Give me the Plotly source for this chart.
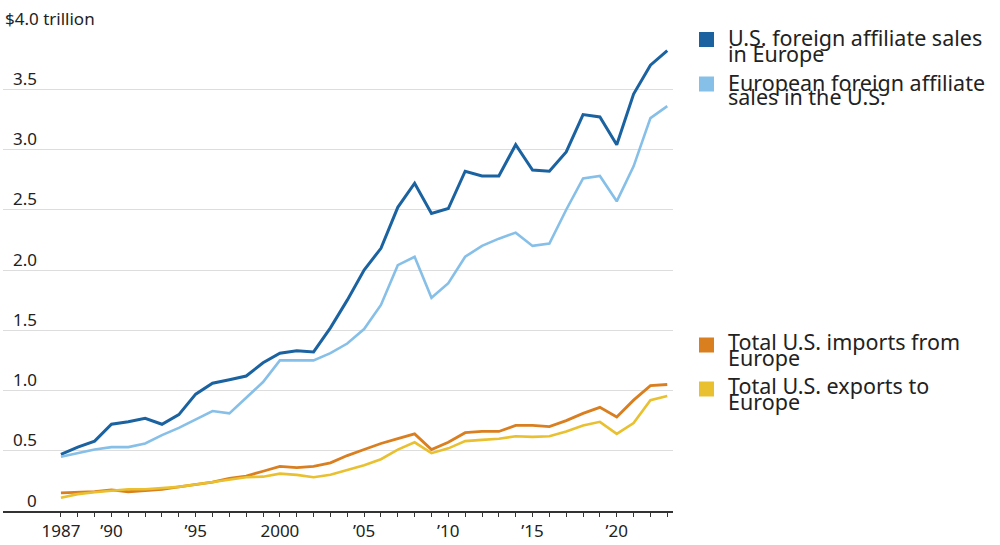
import plotly.graph_objects as go

years = list(range(1987, 2024))

us_affiliate_europe = [0.47, 0.53, 0.58, 0.72, 0.74, 0.77, 0.72, 0.80, 0.97, 1.06,
                       1.09, 1.12, 1.23, 1.31, 1.33, 1.32, 1.52, 1.75, 2.00, 2.18,
                       2.52, 2.72, 2.47, 2.51, 2.82, 2.78, 2.78, 3.04, 2.83, 2.82,
                       2.98, 3.29, 3.27, 3.04, 3.46, 3.70, 3.82]
eu_affiliate_us = [0.45, 0.48, 0.51, 0.53, 0.53, 0.56, 0.63, 0.69, 0.76, 0.83,
                   0.81, 0.94, 1.07, 1.25, 1.25, 1.25, 1.31, 1.39, 1.51, 1.71,
                   2.04, 2.11, 1.77, 1.89, 2.11, 2.20, 2.26, 2.31, 2.20, 2.22,
                   2.50, 2.76, 2.78, 2.57, 2.86, 3.26, 3.36]
us_imports = [0.15, 0.155, 0.16, 0.175, 0.16, 0.17, 0.18, 0.20, 0.22, 0.24,
              0.27, 0.29, 0.33, 0.37, 0.36, 0.37, 0.40, 0.46, 0.51, 0.56,
              0.60, 0.64, 0.51, 0.57, 0.65, 0.66, 0.66, 0.71, 0.71, 0.70,
              0.75, 0.81, 0.86, 0.78, 0.92, 1.04, 1.05]
us_exports = [0.11, 0.14, 0.155, 0.17, 0.18, 0.18, 0.19, 0.20, 0.22, 0.24,
              0.26, 0.28, 0.285, 0.31, 0.30, 0.28, 0.30, 0.34, 0.38, 0.43,
              0.51, 0.57, 0.48, 0.52, 0.58, 0.59, 0.60, 0.62, 0.615, 0.62,
              0.66, 0.71, 0.74, 0.64, 0.73, 0.92, 0.955]

series_names = [["U.S. foreign affiliate sales", "in Europe"],
                ["European foreign affiliate", "sales in the U.S."],
                ["Total U.S. imports from", "Europe"],
                ["Total U.S. exports to", "Europe"]]
series_colors = ["#1b62a0", "#86bfe8", "#d97f1f", "#e9c030"]
series_values = [us_affiliate_europe, eu_affiliate_us, us_imports, us_exports]
line_widths = [3, 2.6, 2.8, 2.6]

x_tick_vals = [1987, 1990, 1995, 2000, 2005, 2010, 2015, 2020]
x_tick_text = ["1987", "\u201990", "\u201995", "2000", "\u201905", "\u201910", "\u201915", "\u201920"]
y_tick_vals = [0, 0.5, 1.0, 1.5, 2.0, 2.5, 3.0, 3.5, 4.0]
y_tick_text = ["0", "0.5", "1.0", "1.5", "2.0", "2.5", "3.0", "3.5", "$4.0 trillion"]

FONT = "Noto Sans"
TXT = "#222222"
W, H = 1000, 545
L, R, T, B = 3, 327, 29, 34
plot_w = W - L - R
plot_h = H - T - B

def px_to_paper_x(px):
    return (px - L) / plot_w

def py_to_paper_y(py):
    return (H - B - py) / plot_h

fig = go.Figure()
for name, vals, col, lw in zip(series_names, series_values, series_colors, line_widths):
    fig.add_trace(go.Scatter(x=years, y=vals, mode="lines", name=" ".join(name),
                             line=dict(color=col, width=lw), showlegend=False,
                             hoverinfo="skip"))

# all-year ticks, labelled only at chosen years
all_tick_text = [x_tick_text[x_tick_vals.index(y)] if y in x_tick_vals else "" for y in years]

fig.update_layout(
    width=W, height=H,
    margin=dict(l=L, r=R, t=T, b=B),
    paper_bgcolor="white", plot_bgcolor="white",
    font=dict(family=FONT, color=TXT),
    xaxis=dict(range=[1983.56, 2023.34], tickmode="array", tickvals=years,
               ticktext=all_tick_text, ticks="outside", ticklen=4, tickwidth=1.3,
               tickcolor="#333333", showline=True, linecolor="#333333", linewidth=1.6,
               showgrid=False, zeroline=False, fixedrange=True,
               tickfont=dict(size=17, family=FONT, color=TXT)),
    yaxis=dict(range=[0, 4.0], tickvals=y_tick_vals, showticklabels=False,
               showgrid=True, gridcolor="#dddddd", gridwidth=1.4, zeroline=False,
               showline=False, fixedrange=True),
)

# y tick labels above gridlines
for v, t in zip(y_tick_vals, y_tick_text):
    if v == 4.0:
        fig.add_annotation(x=px_to_paper_x(3), xref="paper", xanchor="left",
                           y=v, yref="y", yanchor="middle", yshift=11, text=t,
                           showarrow=False, font=dict(size=17, family=FONT, color=TXT))
    else:
        fig.add_annotation(x=px_to_paper_x(39), xref="paper", xanchor="right",
                           y=v, yref="y", yanchor="middle", yshift=11, text=t,
                           showarrow=False, font=dict(size=17, family=FONT, color=TXT))

# legend
legend_sq_centers = [39.5, 84, 345, 389]
legend_line_centers = [(37.5, 53), (82, 96.5), (341.5, 357.5), (385.5, 401.5)]
for name, col, sc, (l1, l2) in zip(series_names, series_colors, legend_sq_centers, legend_line_centers):
    fig.add_shape(type="rect", xref="paper", yref="paper",
                  x0=px_to_paper_x(699), x1=px_to_paper_x(714),
                  y0=py_to_paper_y(sc + 7.5), y1=py_to_paper_y(sc - 7.5),
                  fillcolor=col, line=dict(width=0))
    for txt, cy in zip(name, (l1, l2)):
        fig.add_annotation(x=px_to_paper_x(726), xref="paper", xanchor="left",
                           y=py_to_paper_y(cy), yref="paper", yanchor="middle",
                           text=txt, showarrow=False,
                           font=dict(size=21.5, family=FONT, color=TXT))

fig.write_html("out.html", config={"displayModeBar": False},
               post_script="document.body.style.margin='0px';")
